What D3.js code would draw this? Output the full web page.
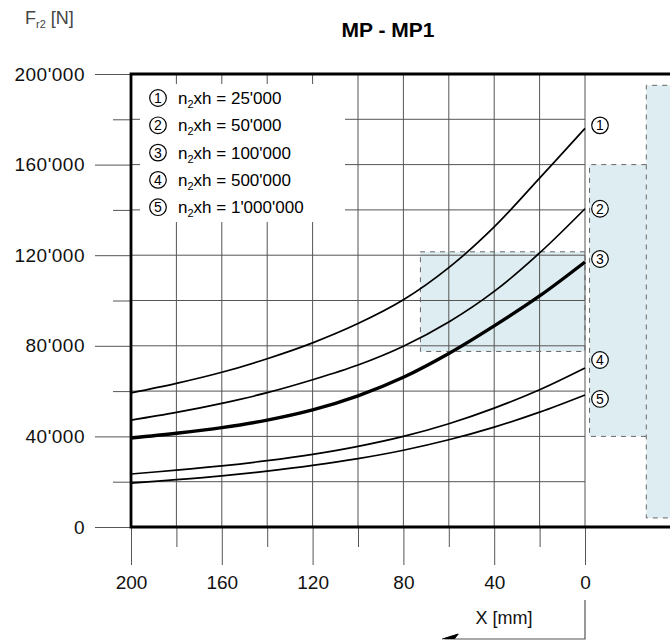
<!DOCTYPE html>
<html>
<head>
<meta charset="utf-8">
<script src="https://cdn.jsdelivr.net/npm/d3@7/dist/d3.min.js"></script>
<style>
  html, body { margin: 0; padding: 0; background: #fff; }
  svg { display: block; font-family: "Liberation Sans", Arial, sans-serif; }
</style>
</head>
<body>
<svg id="chart" width="670" height="642"></svg>
<script>
// ---------- data ----------
const xPositions = [200, 180, 160, 140, 120, 100, 80, 60, 40, 20, 0];
const series1 = [59200, 63400, 68300, 74300, 81300, 89800, 100300, 114500, 132500, 154000, 176000];
const series2 = [47200, 50600, 54600, 59300, 65000, 71500, 79800, 90500, 104000, 121000, 140500];
const series3 = [39300, 41400, 43900, 47200, 51700, 57900, 66100, 76600, 88800, 102000, 117000];
const series4 = [23400, 25100, 27000, 29300, 32100, 35600, 40000, 45600, 52500, 60600, 70200];
const series5 = [19400, 20900, 22600, 24700, 27200, 30200, 33900, 38500, 44100, 50700, 58300];
const seriesIds = ["1", "2", "3", "4", "5"];
const legendValues = ["25'000", "50'000", "100'000", "500'000", "1'000'000"];
const yMajorTicks = [0, 40000, 80000, 120000, 160000, 200000];
const yMinorTicks = [20000, 60000, 100000, 140000, 180000];
const xMajorTicks = [200, 160, 120, 80, 40, 0];
const xMinorTicks = [180, 140, 100, 60, 20];
// shaded zones (x in mm, y in N)
const zoneA = { x0: 72.5, x1: 0, y0: 77500, y1: 121500 };
const zoneB = { x0: -2, x1: -27, y0: 40000, y1: 160000 };
const zoneC = { x0: -27, x1: -45, y0: 4000, y1: 195000 };

// ---------- layout ----------
const W = 670, H = 642;
const svg = d3.select("#chart");
const x = d3.scaleLinear().domain([200, 0]).range([131, 585]);
const y = d3.scaleLinear().domain([0, 200000]).range([527, 74]);
const fmt = d => d3.format(",")(d).replace(/,/g, "'");
const gridColor = "#555";
const fill = "#deedf1";

// shaded zones
function zoneRect(z) {
  svg.append("rect")
    .attr("x", x(z.x0)).attr("y", y(z.y1))
    .attr("width", x(z.x1) - x(z.x0)).attr("height", y(z.y0) - y(z.y1))
    .attr("fill", fill);
}
zoneRect(zoneA); zoneRect(zoneB); zoneRect(zoneC);

// gridlines
const allY = yMajorTicks.concat(yMinorTicks).filter(v => v > 0 && v < 200000);
svg.append("g").selectAll("line").data(allY).join("line")
  .attr("x1", x(200)).attr("x2", x(0))
  .attr("y1", d => y(d)).attr("y2", d => y(d))
  .attr("stroke", gridColor).attr("stroke-width", 1);
const allX = xMajorTicks.concat(xMinorTicks).filter(v => v < 200);
svg.append("g").selectAll("line").data(allX).join("line")
  .attr("x1", d => x(d)).attr("x2", d => x(d))
  .attr("y1", y(200000)).attr("y2", y(0))
  .attr("stroke", gridColor).attr("stroke-width", 1);

// dashed outlines of zones
const dash = { stroke: "#666", "stroke-width": 1, "stroke-dasharray": "5,5", fill: "none" };
function dashed(points) {
  const p = svg.append("path").attr("d", d3.line()(points));
  Object.entries(dash).forEach(([k, v]) => p.attr(k, v));
}
dashed([[x(zoneA.x1), y(zoneA.y1)], [x(zoneA.x0), y(zoneA.y1)], [x(zoneA.x0), y(zoneA.y0)], [x(zoneA.x1), y(zoneA.y0)], [x(zoneA.x1), y(zoneA.y1)]]);
dashed([[x(zoneB.x1), y(zoneB.y1)], [x(zoneB.x0), y(zoneB.y1)], [x(zoneB.x0), y(zoneB.y0)], [x(zoneB.x1), y(zoneB.y0)]]);
dashed([[x(zoneC.x1), y(zoneC.y1)], [x(zoneC.x0), y(zoneC.y1)], [x(zoneC.x0), y(zoneC.y0)], [x(zoneC.x1), y(zoneC.y0)]]);

// legend box (white background covering grid)
const lg = svg.append("g");
lg.append("rect").attr("x", 140).attr("y", 84).attr("width", 205).attr("height", 138).attr("fill", "#fff");

// y axis ticks & labels
const yAxisMajor = d3.axisLeft(y).tickValues(yMajorTicks).tickSize(36).tickPadding(10).tickFormat(fmt);
const gy = svg.append("g").attr("transform", `translate(${x(200)},0)`).call(yAxisMajor);
const yAxisMinor = d3.axisLeft(y).tickValues(yMinorTicks).tickSize(18).tickFormat("");
const gy2 = svg.append("g").attr("transform", `translate(${x(200)},0)`).call(yAxisMinor);
[gy, gy2].forEach(g => {
  g.select(".domain").remove();
  g.selectAll("line").attr("stroke", gridColor);
  g.selectAll("text").attr("font-size", 19).attr("letter-spacing", 0.5).attr("fill", "#111")
    .attr("font-family", "'Liberation Sans', Arial, sans-serif");
});

// x axis ticks & labels
const xAxisMajor = d3.axisBottom(x).tickValues(xMajorTicks).tickSize(38).tickPadding(11).tickFormat(d3.format("d"));
const gx = svg.append("g").attr("transform", `translate(0,${y(0)})`).call(xAxisMajor);
const xAxisMinor = d3.axisBottom(x).tickValues(xMinorTicks).tickSize(20).tickFormat("");
const gx2 = svg.append("g").attr("transform", `translate(0,${y(0)})`).call(xAxisMinor);
[gx, gx2].forEach(g => {
  g.select(".domain").remove();
  g.selectAll("line").attr("stroke", gridColor);
  g.selectAll("text").attr("font-size", 19).attr("fill", "#111")
    .attr("font-family", "'Liberation Sans', Arial, sans-serif");
});

// curves
const allSeries = [series1, series2, series3, series4, series5];
const line = d3.line().x((d, i) => x(xPositions[i])).y(d => y(d)).curve(d3.curveCatmullRom.alpha(0.5));
allSeries.forEach((s, k) => {
  svg.append("path").attr("d", line(s)).attr("fill", "none")
    .attr("stroke", "#000").attr("stroke-width", k === 2 ? 3.4 : 1.7)
    .attr("stroke-linejoin", "round");
});

// frame (left, top, bottom)
svg.append("path")
  .attr("d", d3.line()([[W, y(200000)], [x(200), y(200000)], [x(200), y(0)], [W, y(0)]]))
  .attr("fill", "none").attr("stroke", "#000").attr("stroke-width", 2.8);

// circled marker helper
function circled(parent, cx, cy, label, r = 8.3) {
  const g = parent.append("g");
  g.append("circle").attr("cx", cx).attr("cy", cy).attr("r", r)
    .attr("fill", "#fff").attr("stroke", "#000").attr("stroke-width", 1.2);
  g.append("text").attr("x", cx).attr("y", cy + 5).attr("text-anchor", "middle")
    .attr("font-size", 14).attr("fill", "#000").text(label);
}

// curve end labels
const endOffsets = [-3, 0, -3, -8, 4];
allSeries.forEach((s, k) => {
  circled(svg, x(0) + 15, y(s[s.length - 1]) + endOffsets[k], seriesIds[k]);
});

// legend entries
legendValues.forEach((v, k) => {
  const cy = 98 + k * 27.3;
  circled(lg, 158, cy, seriesIds[k]);
  const t = lg.append("text").attr("x", 178).attr("y", cy + 6).attr("font-size", 17).attr("fill", "#000");
  t.append("tspan").text("n");
  t.append("tspan").attr("font-size", 11).attr("dy", 4).text("2");
  t.append("tspan").attr("dy", -4).text("xh = " + v);
});

// title & axis titles
svg.append("text").attr("x", 388).attr("y", 37).attr("text-anchor", "middle")
  .attr("font-size", 21).attr("font-weight", "bold").attr("fill", "#000").text("MP - MP1");
const fy = svg.append("text").attr("x", 25).attr("y", 24).attr("font-size", 18).attr("fill", "#444");
fy.append("tspan").text("F");
fy.append("tspan").attr("font-size", 11).attr("dy", 4).text("r2");
fy.append("tspan").attr("dy", -4).text(" [N]");

svg.append("text").attr("x", 504).attr("y", 624).attr("text-anchor", "middle")
  .attr("font-size", 18).attr("fill", "#111").text("X [mm]");

// direction arrow under X axis
svg.append("path")
  .attr("d", d3.line()([[x(0), 600], [x(0), 639], [x(62), 639]]))
  .attr("fill", "none").attr("stroke", "#555").attr("stroke-width", 1.2);
svg.append("path")
  .attr("d", d3.line()([[x(62) - 2, 639], [x(62) + 14, 634], [x(62) + 10, 639]]))
  .attr("fill", "#000").attr("stroke", "#000").attr("stroke-width", 1);
</script>
</body>
</html>
